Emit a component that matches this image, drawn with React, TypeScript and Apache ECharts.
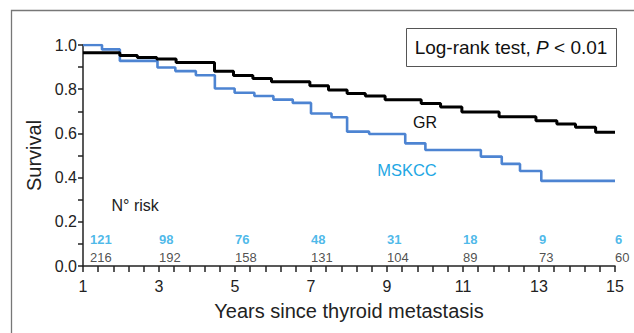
import React, { useEffect, useRef } from "react";
import * as echarts from "echarts";

// Kaplan–Meier curves (years, survival)
const grYears = [1, 1.97, 2.43, 2.94, 3.45, 4.46, 4.96, 5.47, 5.96, 6.97, 7.46, 7.95, 8.43, 8.95, 9.9, 10.41, 10.97, 11.95, 12.92, 13.47, 13.96, 14.49, 15];
const grSurvival = [0.965, 0.952, 0.943, 0.937, 0.921, 0.881, 0.862, 0.848, 0.834, 0.816, 0.796, 0.78, 0.769, 0.752, 0.735, 0.719, 0.697, 0.675, 0.657, 0.643, 0.628, 0.605, 0.605];

const mskccYears = [1, 1.5, 1.97, 2.96, 3.43, 3.97, 4.47, 4.99, 5.51, 6.01, 6.52, 7.0, 7.54, 7.95, 8.53, 9.48, 10.01, 11.47, 12.02, 12.5, 13.06, 15];
const mskccSurvival = [1.0, 0.98, 0.928, 0.898, 0.882, 0.863, 0.803, 0.784, 0.769, 0.753, 0.738, 0.69, 0.673, 0.608, 0.597, 0.555, 0.525, 0.495, 0.462, 0.43, 0.385, 0.385];

// Numbers at risk
const riskYears = [1, 3, 5, 7, 9, 11, 13, 15];
const riskMSKCC = [121, 98, 76, 48, 31, 18, 9, 6];
const riskGR = [216, 192, 158, 131, 104, 89, 73, 60];

const FONT = "'Liberation Sans', Arial, Helvetica, sans-serif";
const AXIS_COLOR = "#222";
const BLACK = "#000";
const BLUE_LINE = "#4d84d2";
const BLUE_TEXT = "#1ea7e4";

export default function App() {
  const ref = useRef<HTMLDivElement>(null);

  useEffect(() => {
    if (!ref.current) return;
    const chart = echarts.init(ref.current, null, { renderer: "svg" });

    const zip = (xs: number[], ys: number[]) => xs.map((x, i) => [x, ys[i]]);

    const riskRow = (vals: number[], yPos: number, color: string, weight: string) =>
      riskYears.map((x, i) => ({
        value: [x, yPos],
        label: {
          show: true,
          formatter: String(vals[i]),
          position: "right",
          distance: 0,
          offset: i === 0 ? [7, 0] : [0, 0],
          color,
          fontSize: 13,
          fontWeight: weight,
          fontFamily: FONT,
          align: "left",
          verticalAlign: "middle",
        },
      }));

    const tickStyle = { color: AXIS_COLOR, width: 1.5 };

    chart.setOption({
      animation: false,
      textStyle: { fontFamily: FONT },
      grid: { left: 83, right: 19, top: 45, bottom: 67, containLabel: false },
      xAxis: {
        type: "value",
        min: 1,
        max: 15,
        interval: 2,
        axisLine: { show: true, lineStyle: tickStyle },
        axisTick: { show: true, inside: false, length: 6, lineStyle: tickStyle },
        minorTick: { show: true, splitNumber: 5, length: 6, lineStyle: tickStyle },
        splitLine: { show: false },
        minorSplitLine: { show: false },
        axisLabel: { fontSize: 16, color: AXIS_COLOR, margin: 12, fontFamily: FONT },
        name: "Years since thyroid metastasis",
        nameLocation: "middle",
        nameGap: 35,
        nameTextStyle: { fontSize: 20, color: AXIS_COLOR, fontFamily: FONT },
      },
      yAxis: {
        type: "value",
        min: 0,
        max: 1,
        interval: 0.2,
        axisLine: { show: true, lineStyle: tickStyle },
        axisTick: { show: true, inside: false, length: 5, lineStyle: tickStyle },
        minorTick: { show: true, splitNumber: 2, length: 5, lineStyle: tickStyle },
        splitLine: { show: false },
        minorSplitLine: { show: false },
        axisLabel: {
          fontSize: 16,
          color: AXIS_COLOR,
          margin: 6,
          fontFamily: FONT,
          formatter: (v: number) => v.toFixed(1),
        },
        name: "Survival",
        nameLocation: "middle",
        nameGap: 37,
        nameTextStyle: { fontSize: 20, color: AXIS_COLOR, fontFamily: FONT },
      },
      series: [
        {
          name: "MSKCC",
          type: "line",
          step: "end",
          data: zip(mskccYears, mskccSurvival),
          showSymbol: false,
          symbol: "none",
          lineStyle: { color: BLUE_LINE, width: 2.6 },
          z: 2,
        },
        {
          name: "GR",
          type: "line",
          step: "end",
          data: zip(grYears, grSurvival),
          showSymbol: false,
          symbol: "none",
          lineStyle: { color: BLACK, width: 3 },
          z: 3,
        },
        {
          name: "riskMSKCC",
          type: "scatter",
          symbolSize: 0,
          data: riskRow(riskMSKCC, 0.118, BLUE_TEXT, "bold"),
          silent: true,
        },
        {
          name: "riskGR",
          type: "scatter",
          symbolSize: 0,
          data: riskRow(riskGR, 0.039, "#222", "normal"),
          silent: true,
        },
      ],
      graphic: [
        {
          type: "rect",
          silent: true,
          z: -10,
          shape: { x: 11.5, y: 10.5, width: 700, height: 400 },
          style: { fill: "none", stroke: "#777", lineWidth: 1.3 },
        },
        {
          type: "rect",
          silent: true,
          shape: { x: 406.5, y: 28.5, width: 210, height: 38 },
          style: { fill: "#fff", stroke: "#555", lineWidth: 1 },
        },
        {
          type: "text",
          silent: true,
          x: 511,
          y: 47.5,
          style: {
            text: "{n|Log-rank test, }{i|P}{n| < 0.01}",
            align: "center",
            verticalAlign: "middle",
            rich: {
              n: { fontSize: 19, fontFamily: FONT, fill: "#111" },
              i: { fontSize: 19, fontFamily: FONT, fontStyle: "italic", fill: "#111" },
            },
          },
        },
        {
          type: "text",
          silent: true,
          x: 425,
          y: 122,
          style: { text: "GR", fontSize: 16, fontFamily: FONT, fill: "#111", align: "center", verticalAlign: "middle" },
        },
        {
          type: "text",
          silent: true,
          x: 407,
          y: 169.5,
          style: { text: "MSKCC", fontSize: 16.5, fontFamily: FONT, fill: BLUE_TEXT, align: "center", verticalAlign: "middle" },
        },
        {
          type: "text",
          silent: true,
          x: 111.5,
          y: 205,
          style: { text: "N° risk", fontSize: 16, fontFamily: FONT, fill: "#222", align: "left", verticalAlign: "middle" },
        },
      ],
    });

    return () => chart.dispose();
  }, []);

  return (
    <div
      ref={ref}
      style={{ position: "absolute", left: 0, top: 0, width: 634, height: 333, background: "#fff" }}
    />
  );
}
